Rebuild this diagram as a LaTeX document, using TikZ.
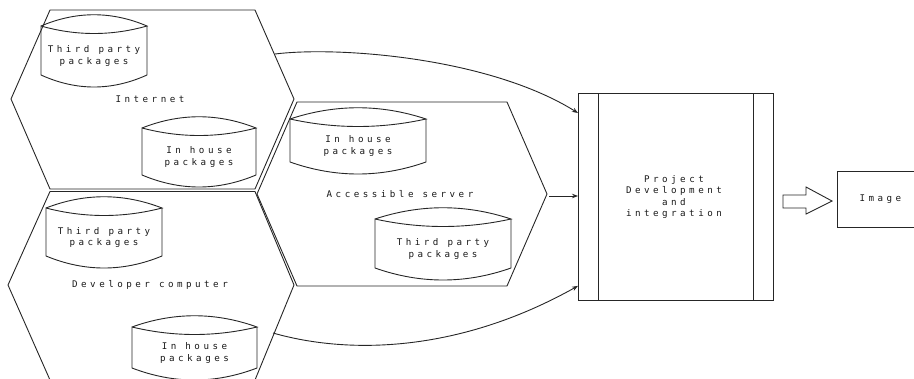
\documentclass[tikz,border=0pt]{standalone}
\usepackage{fontspec}
\newfontfamily\monospaced[LetterSpace=38]{DejaVu Sans Mono}
\usetikzlibrary{arrows.meta,calc}

% A storage drum: lens-shaped top, straight sides, rounded bottom.
% #1 name, #2 left x, #3 right x, #4 y of top corners, #5 y of bottom corners, #6 text
\newcommand\storagedrum[6]{%
  \draw[line] (#2,#4)
      .. controls ({#2+(#3-#2)/3},#4-15) and ({#3-(#3-#2)/3},#4-15) .. (#3,#4)
      .. controls ({#3-(#3-#2)/3},#4+10) and ({#2+(#3-#2)/3},#4+10) .. (#2,#4)
      -- (#2,#5)
      .. controls ({#2+(#3-#2)/3},#5+16) and ({#3-(#3-#2)/3},#5+16) .. (#3,#5)
      -- (#3,#4);
  \node[lbl] (#1) at ({(#2+#3)/2},{(#4+#5)/2+5.5}) {#6};
}

\begin{document}
\begin{tikzpicture}[x=1pt,y=-1pt,
  line/.style={draw=black!85, line width=0.9pt},
  lbl/.style={font=\monospaced\fontsize{9.2}{11.6}\selectfont, align=center,
              inner sep=0pt, text=black!90},
  link/.style={line, -{Stealth[length=6pt,width=4.5pt]}},
  box/.style={line, anchor=north west, inner sep=0pt},
]
\useasboundingbox (0,0) rectangle (914,378);
\clip (0,0) rectangle (914,378);

% zones
\draw[line] (50,10) -- (255,10) -- (294,99) -- (255,189) -- (50,189) -- (11,99) -- cycle;
\draw[line] (50,191.5) -- (255,191.5) -- (294,285) -- (255,380) -- (50,380) -- (8,285) -- cycle;
\draw[line] (297,102) -- (507,102) -- (547,194) -- (507,286) -- (297,286) -- (257,194) -- cycle;

\node[lbl] (internet) at (150,99) {Internet};
\node[lbl] (devpc) at (150,285) {Developer computer};
\node[lbl] (server) at (400,194) {Accessible server};

% package stores
\storagedrum{inetThird}{41}{147}{26}{75}{Third party\\packages}
\storagedrum{inetHouse}{142}{256}{128}{175}{In house\\packages}
\storagedrum{devThird}{46}{162}{208}{256}{Third party\\packages}
\storagedrum{devHouse}{132}{257}{327}{368}{In house\\packages}
\storagedrum{srvHouse}{290}{426}{119}{162}{In house\\packages}
\storagedrum{srvThird}{375}{511}{219}{268}{Third party\\packages}

% project block
\node[box, minimum width=195pt, minimum height=207pt] (proj) at (578,93) {};
\draw[line] ($(proj.north west)+(20,0)$) -- ($(proj.south west)+(20,0)$);
\draw[line] ($(proj.north east)+(-20,0)$) -- ($(proj.south east)+(-20,0)$);
\node[lbl] (projtxt) at ($(proj.center)+(-2,0)$) {Project\\Development\\and\\integration};

% result
\node[box, minimum width=86pt, minimum height=56pt] (img) at (837,171) {};
\node[lbl] (imgtxt) at (img.center) {Image};

% flows into the project
\coordinate (inetEdge) at (275,54);
\coordinate (devEdge) at (273,333);
\coordinate (srvTip) at (549,196);
\draw[link] (inetEdge) .. controls (340,46) and (490,58) .. ($(proj.north west)+(0,20)$);
\draw[link] (srvTip) -- (srvTip -| proj.west);
\draw[link] (devEdge) .. controls (350,355) and (460,352) .. ($(proj.south west)+(0,-15)$);

% hollow arrow towards the result
\draw[line, line join=miter] (783,195) -- (806,195) -- (806,187) -- (832,201)
  -- (806,214) -- (806,208) -- (783,208) -- cycle;
\end{tikzpicture}
\end{document}
